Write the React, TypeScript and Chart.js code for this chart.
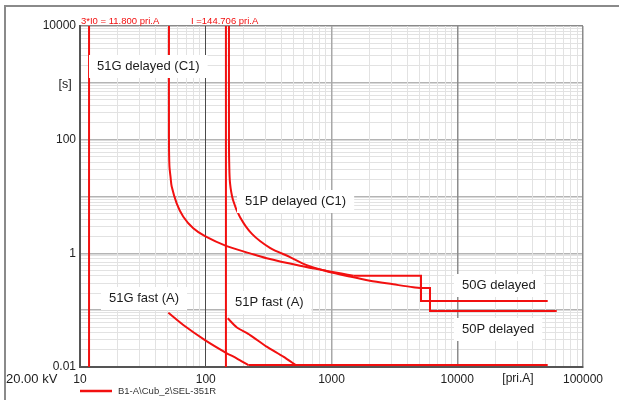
import React, { useEffect, useRef } from 'react';
import { Chart, registerables } from 'chart.js';

Chart.register(...registerables);

// ---- axis ranges & tick labels ----
const X_MIN = 10;
const X_MAX = 100000;
const Y_MIN = 0.01;
const Y_MAX = 10000;
const X_TICK_LABELS = ['10', '100', '1000', '10000', '100000'];
const Y_TICK_LABELS = ['10000', '100', '1', '0.01'];

// ---- marker currents [pri.A] ----
const MARKER_3I0 = 11.8;
const MARKER_I = 144.706;

// ---- curves: [current pri.A, time s] ----
const G51_DELAYED_CURVE: [number, number][] = [
  [51.0, 10000], [51.0, 100], [51.4, 35], [52.6, 21], [53.6, 15], [58.7, 7.6],
  [66.3, 4.4], [79.6, 2.75], [98.6, 2.0], [145, 1.35], [225, 1.0], [305, 0.82],
  [562, 0.605], [916, 0.49], [1200, 0.44], [1500, 0.404],
];
const G50_DELAYED_STEP: [number, number][] = [
  [1500, 0.404], [5150, 0.404], [5150, 0.145], [52400, 0.145],
];
const P51_DELAYED_CURVE: [number, number][] = [
  [153, 10000], [153, 100], [153.6, 40], [155.9, 17.3], [164.7, 8.7], [187, 4.36],
  [233, 2.2], [324, 1.25], [468, 0.86], [635, 0.62], [916, 0.485],
  [1400, 0.39], [2020, 0.33], [3100, 0.285], [4470, 0.252], [5060, 0.245],
];
const P50_DELAYED_STEP: [number, number][] = [
  [5060, 0.245], [6070, 0.245], [6070, 0.0966], [61800, 0.0966],
];
const G51_FAST: [number, number][] = [
  [50.4, 0.09], [66.3, 0.0548], [98.6, 0.0298], [145, 0.0178], [176, 0.0142], [218, 0.0108],
];
const P51_FAST: [number, number][] = [
  [149.5, 0.072], [176, 0.0499], [225, 0.0365], [305, 0.0228], [414, 0.0152], [520, 0.0108],
];
const FAST_FLOOR: [number, number][] = [
  [218, 0.0108], [52400, 0.0108],
];

const RED = '#f21010';
const FONT = "'Liberation Sans', Arial, sans-serif";

const toXY = (pts: [number, number][]) => pts.map(([x, y]) => ({ x, y }));

const isDecade = (v: number) => {
  const l = Math.log10(v);
  return Math.abs(l - Math.round(l)) < 1e-6;
};
const sameVal = (a: number, b: number) => Math.abs(Math.log10(a) - Math.log10(b)) < 1e-6;

// text annotations (pixel positions on the 619x400 canvas)
const PLOT_LABELS = [
  { text: '51G delayed (C1)', x: 97, y: 66 },
  { text: '51P delayed (C1)', x: 245, y: 201 },
  { text: '51G fast (A)', x: 109, y: 298 },
  { text: '51P fast (A)', x: 235, y: 302 },
  { text: '50G delayed', x: 462, y: 285 },
  { text: '50P delayed', x: 462, y: 329 },
];

const overlayPlugin = {
  id: 'overlay',
  afterDatasetsDraw(chart: any) {
    const ctx = chart.ctx as CanvasRenderingContext2D;
    ctx.save();
    ctx.font = `13px ${FONT}`;
    ctx.textBaseline = 'middle';
    ctx.textAlign = 'left';
    for (const l of PLOT_LABELS) {
      const w = ctx.measureText(l.text).width;
      ctx.fillStyle = '#ffffff';
      ctx.fillRect(l.x - 8, l.y - 11, w + 16, 23);
      ctx.fillStyle = '#1c1c1c';
      ctx.fillText(l.text, l.x, l.y + 0.5);
    }
    ctx.restore();
  },
  afterDraw(chart: any) {
    const ctx = chart.ctx as CanvasRenderingContext2D;
    ctx.save();
    // outer frame
    ctx.strokeStyle = '#8a8a8a';
    ctx.lineWidth = 2;
    ctx.beginPath();
    ctx.moveTo(5, 400);
    ctx.lineTo(5, 6);
    ctx.lineTo(619, 6);
    ctx.stroke();

    // marker labels
    ctx.font = `9.5px ${FONT}`;
    ctx.fillStyle = RED;
    ctx.textBaseline = 'alphabetic';
    ctx.textAlign = 'left';
    ctx.fillText('3*I0 = 11.800 pri.A', 81, 24);
    ctx.fillText('I =144.706 pri.A', 191, 24);

    // axis captions
    ctx.fillStyle = '#1c1c1c';
    ctx.textBaseline = 'middle';
    ctx.font = `12.5px ${FONT}`;
    ctx.textAlign = 'center';
    ctx.fillText('[s]', 65, 85);
    ctx.font = `12px ${FONT}`;
    ctx.fillText('[pri.A]', 518, 379);
    ctx.font = `13px ${FONT}`;
    ctx.textAlign = 'left';
    ctx.fillText('20.00 kV', 6, 379);

    // legend
    ctx.strokeStyle = RED;
    ctx.lineWidth = 2.5;
    ctx.beginPath();
    ctx.moveTo(80, 391);
    ctx.lineTo(112, 391);
    ctx.stroke();
    ctx.font = `9.5px ${FONT}`;
    ctx.fillStyle = '#333';
    ctx.fillText('B1-A\\Cub_2\\SEL-351R', 118, 391);
    ctx.restore();
  },
};

export default function App() {
  const ref = useRef<HTMLCanvasElement | null>(null);

  useEffect(() => {
    document.body.style.margin = '0';
    const canvas = ref.current;
    if (!canvas) return;

    const line = (pts: [number, number][], tension = 0) => ({
      data: toXY(pts),
      borderColor: RED,
      backgroundColor: RED,
      borderWidth: 2,
      pointRadius: 0,
      tension,
      fill: false,
    });

    const chart = new Chart(canvas, {
      type: 'line',
      data: {
        datasets: [
          line([[MARKER_3I0, Y_MIN], [MARKER_3I0, Y_MAX]]),
          line([[MARKER_I, Y_MIN], [MARKER_I, Y_MAX]]),
          line(G51_DELAYED_CURVE, 0.3),
          line(G50_DELAYED_STEP),
          line(P51_DELAYED_CURVE, 0.3),
          line(P50_DELAYED_STEP),
          line(G51_FAST, 0.2),
          line(P51_FAST, 0.2),
          line(FAST_FLOOR),
        ] as any,
      },
      options: {
        animation: false,
        responsive: false,
        devicePixelRatio: 1,
        layout: { padding: { top: 26, right: 36, left: 0, bottom: 0 } },
        plugins: {
          legend: { display: false },
          tooltip: { enabled: false },
        },
        scales: {
          x: {
            type: 'logarithmic',
            min: X_MIN,
            max: X_MAX,
            afterBuildTicks: (scale: any) => {
              const t: any[] = [];
              for (let e = 1; e <= 4; e++) for (let m = 1; m <= 9; m++) t.push({ value: m * Math.pow(10, e) });
              t.push({ value: X_MAX });
              scale.ticks = t;
            },
            afterFit: (scale: any) => { scale.height = 33; },
            grid: {
              z: 0,
              drawTicks: false,
              color: (c: any) => {
                const v = c.tick ? c.tick.value : 0;
                if (!v) return '#e2e2e2';
                if (sameVal(v, 100)) return '#4a4a4a';
                if (sameVal(v, X_MAX)) return '#8a8a8a';
                if (sameVal(v, 10000)) return '#8c8c8c';
                if (isDecade(v)) return '#a8a8a8';
                return '#e2e2e2';
              },
              lineWidth: (c: any) => {
                const v = c.tick ? c.tick.value : 0;
                if (v && isDecade(v) && !sameVal(v, 100)) return 1.5;
                return 1;
              },
            },
            border: { display: true, color: '#555', width: 2 },
            ticks: {
              autoSkip: false,
              maxRotation: 0,
              padding: 5,
              color: '#222',
              font: { family: FONT, size: 12 },
              callback: (value: any) => {
                const f = X_TICK_LABELS.find((s) => sameVal(Number(s), Number(value)));
                return f ?? '';
              },
            },
          },
          y: {
            type: 'logarithmic',
            min: Y_MIN,
            max: Y_MAX,
            afterBuildTicks: (scale: any) => {
              const t: any[] = [];
              for (let e = -2; e <= 3; e++) for (let m = 1; m <= 9; m++) t.push({ value: m * Math.pow(10, e) });
              t.push({ value: Y_MAX });
              scale.ticks = t;
            },
            afterFit: (scale: any) => { scale.width = 80; },
            grid: {
              z: -1,
              drawTicks: false,
              color: (c: any) => {
                const v = c.tick ? c.tick.value : 0;
                if (!v) return '#e2e2e2';
                if (sameVal(v, Y_MAX)) return '#8a8a8a';
                if (isDecade(v)) return '#b4b4b4';
                return '#e2e2e2';
              },
              lineWidth: (c: any) => {
                const v = c.tick ? c.tick.value : 0;
                if (v && isDecade(v)) return 1.5;
                return 1;
              },
            },
            border: { display: true, color: '#555', width: 2 },
            ticks: {
              autoSkip: false,
              padding: 4,
              color: '#222',
              font: { family: FONT, size: 12 },
              callback: (value: any) => {
                const f = Y_TICK_LABELS.find((s) => sameVal(Number(s), Number(value)));
                return f ?? '';
              },
            },
          },
        },
      },
      plugins: [overlayPlugin],
    } as any);

    return () => chart.destroy();
  }, []);

  return (
    <div style={{ width: 619, height: 400, background: '#fff' }}>
      <canvas ref={ref} width={619} height={400} style={{ display: 'block' }} />
    </div>
  );
}
